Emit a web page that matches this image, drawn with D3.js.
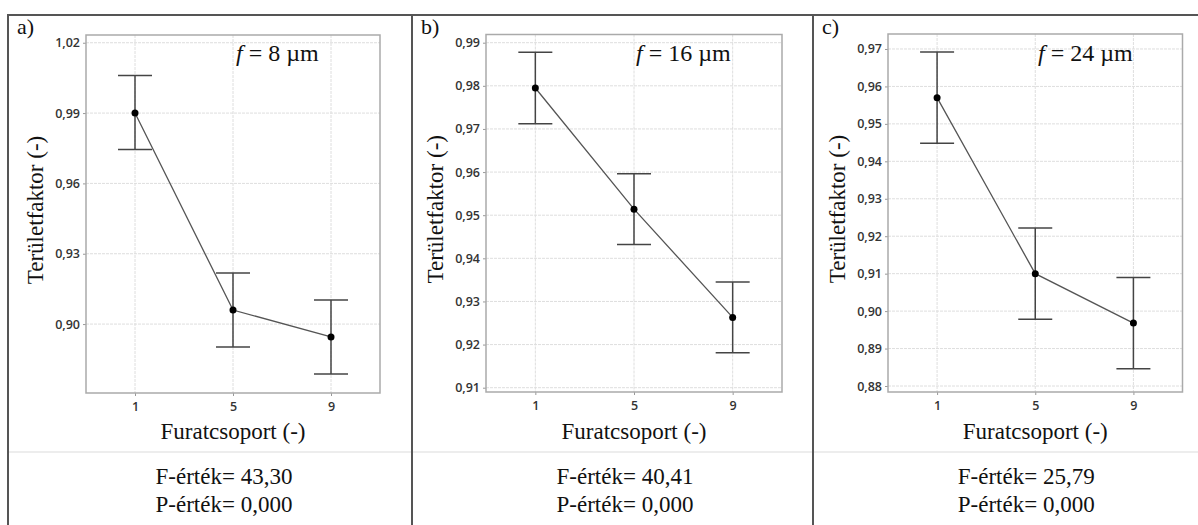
<!DOCTYPE html>
<html>
<head>
<meta charset="utf-8">
<script src="https://cdn.jsdelivr.net/npm/d3@7"></script>
<style>
  html, body { margin: 0; padding: 0; background: #fff; }
  svg { display: block; }
</style>
</head>
<body>
<svg id="chart" width="1198" height="525"></svg>
<script>
// Hole groups on the x axis
const groups = [1, 5, 9];

// Panel a) f = 8 µm
const meanA = [0.990, 0.906, 0.8945];
const lowA  = [0.9745, 0.8902, 0.8787];
const highA = [1.0060, 0.9218, 0.9103];
const ticksA = [0.90, 0.93, 0.96, 0.99, 1.02];

// Panel b) f = 16 µm
const meanB = [0.9795, 0.9514, 0.9263];
const lowB  = [0.9712, 0.9432, 0.9181];
const highB = [0.9878, 0.9596, 0.9345];
const ticksB = [0.91, 0.92, 0.93, 0.94, 0.95, 0.96, 0.97, 0.98, 0.99];

// Panel c) f = 24 µm
const meanC = [0.9570, 0.9100, 0.8968];
const lowC  = [0.9448, 0.8978, 0.8846];
const highC = [0.9692, 0.9222, 0.9090];
const ticksC = [0.88, 0.89, 0.90, 0.91, 0.92, 0.93, 0.94, 0.95, 0.96, 0.97];

const panelLetters = ["a)", "b)", "c)"];
const diameters = ["8", "16", "24"];
const fValues = ["43,30", "40,41", "25,79"];
const pValues = ["0,000", "0,000", "0,000"];

const yTitle = "Területfaktor (-)";
const xTitle = "Furatcsoport (-)";

const svg = d3.select("#chart");
const serif = "'Liberation Serif', 'Times New Roman', serif";
const sans = "'Open Sans', 'Noto Sans', sans-serif";
const fmt = v => d3.format(".2f")(v).replace(".", ",");

const panels = [
  { mean: meanA, low: lowA, high: highA, ticks: ticksA, dom: [0.8706, 1.0233],
    box: { l: 86, r: 380, t: 35, b: 393 }, cell: 8 },
  { mean: meanB, low: lowB, high: highB, ticks: ticksB, dom: [0.9090, 0.9919],
    box: { l: 486, r: 782, t: 34.5, b: 392 }, cell: 412 },
  { mean: meanC, low: lowC, high: highC, ticks: ticksC, dom: [0.8784, 0.9740],
    box: { l: 888, r: 1182.5, t: 34, b: 392 }, cell: 813 }
];

// Table frame around the three panels
const frame = svg.append("g");
frame.append("line").attr("x1", 7).attr("x2", 1198).attr("y1", 15).attr("y2", 15)
  .attr("stroke", "#555").attr("stroke-width", 2);
frame.append("line").attr("x1", 8).attr("x2", 1198).attr("y1", 452).attr("y2", 452)
  .attr("stroke", "#dcdcdc").attr("stroke-width", 1.2);
[8, 412, 813].forEach(x => {
  frame.append("line").attr("x1", x).attr("x2", x).attr("y1", 14).attr("y2", 525)
    .attr("stroke", "#555").attr("stroke-width", 2);
});

panels.forEach((p, i) => {
  const g = svg.append("g");
  const { l, r, t, b } = p.box;

  const x = d3.scaleLinear().domain([-1, 11]).range([l, r]);
  const y = d3.scaleLinear().domain(p.dom).range([b, t]);

  // grid
  g.append("g").selectAll("line.h").data(p.ticks).join("line")
    .attr("x1", l).attr("x2", r)
    .attr("y1", d => y(d)).attr("y2", d => y(d))
    .attr("stroke", "#dedede").attr("stroke-width", 1).attr("stroke-dasharray", "3,1");
  g.append("g").selectAll("line.v").data(groups).join("line")
    .attr("x1", d => x(d)).attr("x2", d => x(d))
    .attr("y1", t).attr("y2", b)
    .attr("stroke", "#dedede").attr("stroke-width", 1).attr("stroke-dasharray", "3,1");

  // axes
  const yAxis = d3.axisLeft(y).tickValues(p.ticks).tickFormat(fmt).tickSize(3).tickPadding(3);
  const ya = g.append("g").attr("transform", `translate(${l},0)`).call(yAxis);
  const xAxis = d3.axisBottom(x).tickValues(groups).tickFormat(d3.format("d")).tickSize(3).tickPadding(6);
  const xa = g.append("g").attr("transform", `translate(0,${b})`).call(xAxis);
  [ya, xa].forEach(a => {
    a.select(".domain").remove();
    a.selectAll(".tick line").attr("stroke", "#999");
    a.selectAll(".tick text").attr("font-family", sans).attr("font-weight", 600)
      .attr("font-size", 12.5).attr("fill", "#333");
  });

  // plot frame
  g.append("rect").attr("x", l).attr("y", t).attr("width", r - l).attr("height", b - t)
    .attr("fill", "none").attr("stroke", "#aaa").attr("stroke-width", 1.5);

  const pts = groups.map((gv, k) => ({ g: gv, m: p.mean[k], lo: p.low[k], hi: p.high[k] }));

  // interval bars
  const cap = 17;
  const eb = g.append("g").attr("stroke", "#444").attr("stroke-width", 1.5);
  eb.selectAll("line.s").data(pts).join("line")
    .attr("x1", d => x(d.g)).attr("x2", d => x(d.g))
    .attr("y1", d => y(d.lo)).attr("y2", d => y(d.hi));
  eb.selectAll("line.top").data(pts).join("line")
    .attr("x1", d => x(d.g) - cap).attr("x2", d => x(d.g) + cap)
    .attr("y1", d => y(d.hi)).attr("y2", d => y(d.hi));
  eb.selectAll("line.bot").data(pts).join("line")
    .attr("x1", d => x(d.g) - cap).attr("x2", d => x(d.g) + cap)
    .attr("y1", d => y(d.lo)).attr("y2", d => y(d.lo));

  // mean line and points
  g.append("path").datum(pts)
    .attr("d", d3.line().x(d => x(d.g)).y(d => y(d.m)))
    .attr("fill", "none").attr("stroke", "#555").attr("stroke-width", 1.3);
  g.selectAll("circle").data(pts).join("circle")
    .attr("cx", d => x(d.g)).attr("cy", d => y(d.m)).attr("r", 3.5).attr("fill", "#000");

  // texts
  g.append("text").attr("x", p.cell + 9).attr("y", 34)
    .attr("font-family", serif).attr("font-size", 22).attr("fill", "#111")
    .text(panelLetters[i]);

  const ft = g.append("text").attr("x", l + 150).attr("y", 61)
    .attr("font-family", serif).attr("font-size", 24).attr("fill", "#111");
  ft.append("tspan").attr("font-style", "italic").text("f");
  ft.append("tspan").text(" = " + diameters[i] + " \u00b5m");

  g.append("text")
    .attr("transform", `translate(${l - 43},${(t + b) / 2 - 4}) rotate(-90)`)
    .attr("text-anchor", "middle")
    .attr("font-family", serif).attr("font-size", 23).attr("fill", "#111")
    .text(yTitle);

  g.append("text").attr("x", (l + r) / 2).attr("y", 439)
    .attr("text-anchor", "middle")
    .attr("font-family", serif).attr("font-size", 23).attr("fill", "#111")
    .text(xTitle);

  const cx = (l + r) / 2 - 9;
  g.append("text").attr("x", cx).attr("y", 484).attr("text-anchor", "middle")
    .attr("font-family", serif).attr("font-size", 23).attr("fill", "#111")
    .text("F-érték= " + fValues[i]);
  g.append("text").attr("x", cx).attr("y", 511.5).attr("text-anchor", "middle")
    .attr("font-family", serif).attr("font-size", 23).attr("fill", "#111")
    .text("P-érték= " + pValues[i]);
});
</script>
</body>
</html>
